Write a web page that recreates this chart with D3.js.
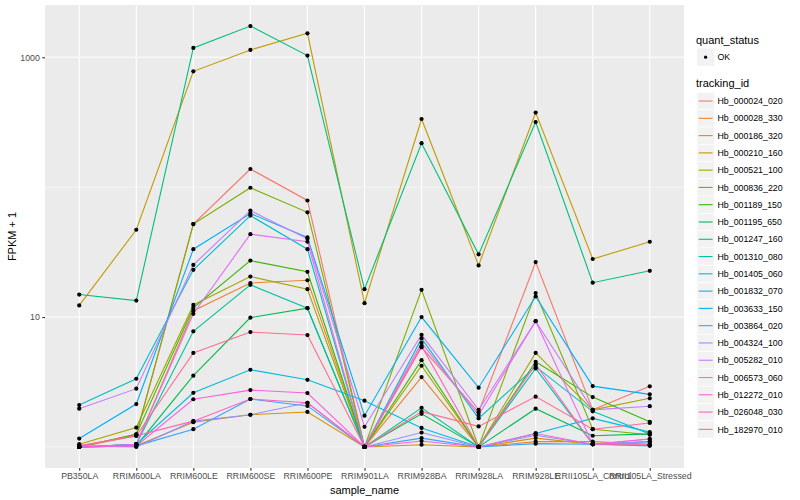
<!DOCTYPE html>
<html>
<head>
<meta charset="utf-8">
<script src="https://cdn.jsdelivr.net/npm/d3@7"></script>
<style>
  body { margin: 0; background: #fff; }
  text { font-family: "Liberation Sans", Arial, sans-serif; }
</style>
</head>
<body>
<div id="chart"></div>
<script>
// sample names along the x axis
const samples = ["PB350LA", "RRIM600LA", "RRIM600LE", "RRIM600SE", "RRIM600PE", "RRIM901LA",
  "RRIM928BA", "RRIM928LA", "RRIM928LE", "RRII105LA_Control", "RRII105LA_Stressed"];

const trackingIds = ["Hb_000024_020", "Hb_000028_330", "Hb_000186_320", "Hb_000210_160", "Hb_000521_100",
  "Hb_000836_220", "Hb_001189_150", "Hb_001195_650", "Hb_001247_160", "Hb_001310_080",
  "Hb_001405_060", "Hb_001832_070", "Hb_003633_150", "Hb_003864_020", "Hb_004324_100",
  "Hb_005282_010", "Hb_006573_060", "Hb_012272_010", "Hb_026048_030", "Hb_182970_010"];

// FPKM + 1, one array per gene, in sample order
const hb000024_020 = [1.0, 1.22, 52, 138, 79, 1.0, 5.85, 1.85, 26.5, 1.93, 2.93];
const hb000028_330 = [1.0, 1.05, 11.2, 18.3, 19.2, 1.0, 3.45, 1.0, 1.1, 1.1, 1.05];
const hb000186_320 = [1.0, 1.02, 1.55, 1.77, 1.86, 1.0, 1.04, 1.0, 1.17, 1.05, 1.03];
const hb000210_160 = [12.3, 47, 780, 1140, 1530, 12.8, 335, 25, 375, 28, 38];
const hb000521_100 = [1.05, 1.41, 12.4, 20.5, 16.4, 1.0, 4.22, 1.0, 5.3, 1.93, 2.37];
const hb000836_220 = [1.0, 1.25, 52, 99, 64, 1.0, 16.2, 1.0, 15.3, 1.37, 1.24];
const hb001189_150 = [1.0, 1.25, 11.8, 27.2, 22.3, 1.0, 4.66, 1.0, 4.53, 2.42, 1.56];
const hb001195_650 = [1.0, 1.02, 3.54, 9.9, 11.7, 1.0, 1.8, 1.0, 1.97, 1.22, 1.26];
const hb001247_160 = [14.9, 13.4, 1180, 1740, 1030, 16.4, 218, 30.4, 317, 18.4, 22.7];
const hb001310_080 = [1.0, 1.05, 7.76, 17.7, 11.7, 1.0, 2.0, 1.0, 4.02, 1.05, 1.1];
const hb001405_060 = [2.1, 3.35, 23.1, 60.4, 33.3, 1.0, 6.85, 1.66, 4.15, 1.88, 1.26];
const hb001832_070 = [1.0, 1.05, 2.61, 3.93, 3.29, 2.27, 1.4, 1.0, 1.27, 1.66, 1.3];
const hb003633_150 = [1.16, 2.14, 33.3, 62.7, 41, 1.74, 10.0, 2.86, 14.4, 2.94, 2.54];
const hb003864_020 = [1.0, 1.02, 1.37, 2.34, 2.07, 1.0, 1.17, 1.0, 1.06, 1.05, 1.02];
const hb004324_100 = [1.02, 1.0, 1.58, 1.77, 2.19, 1.0, 1.29, 1.0, 1.23, 1.05, 1.1];
const hb005282_010 = [1.97, 2.81, 25.2, 66, 40, 1.43, 7.3, 1.93, 9.3, 1.93, 2.06];
const hb006573_060 = [1.0, 1.05, 10.6, 43.5, 38, 1.0, 6.33, 1.76, 9.3, 1.05, 1.15];
const hb012272_010 = [1.0, 1.02, 2.33, 2.74, 2.6, 1.0, 1.11, 1.0, 1.27, 1.05, 1.15];
const hb026048_030 = [1.02, 1.22, 1.58, 2.34, 2.19, 1.0, 6.0, 1.0, 4.33, 1.05, 1.05];
const hb182970_010 = [1.02, 1.22, 5.3, 7.66, 7.27, 1.0, 1.87, 1.44, 2.44, 1.37, 1.53];

const seriesValues = [hb000024_020, hb000028_330, hb000186_320, hb000210_160, hb000521_100,
  hb000836_220, hb001189_150, hb001195_650, hb001247_160, hb001310_080,
  hb001405_060, hb001832_070, hb003633_150, hb003864_020, hb004324_100,
  hb005282_010, hb006573_060, hb012272_010, hb026048_030, hb182970_010];

// ggplot default hue palette for 20 levels
const palette = ["#F8766D", "#EA8331", "#D89000", "#C09B00", "#A3A500", "#7CAE00", "#39B600", "#00BB4E",
  "#00BF7D", "#00C1A3", "#00BFC4", "#00BAE0", "#00B0F6", "#35A2FF", "#9590FF", "#C77CFF",
  "#E76BF3", "#FA62DB", "#FF62BC", "#FF6C91"];

const yBreaks = [10, 1000];
const yMinor = [1, 100];

const series = trackingIds.map((id, i) => ({
  id,
  points: samples.map((s, j) => ({ sample: s, value: seriesValues[i][j] }))
}));

const W = 800, H = 500;
const panel = { left: 45, right: 684, top: 5, bottom: 468 };

const svg = d3.select("#chart").append("svg")
  .attr("width", W).attr("height", H);

svg.append("rect").attr("width", W).attr("height", H).attr("fill", "#fff");

const x = d3.scalePoint()
  .domain(samples)
  .range([panel.left, panel.right])
  .padding(0.6);

// log domain with 5% expansion like ggplot
const allVals = seriesValues.flat();
const lo = Math.log10(d3.min(allVals)), hi = Math.log10(d3.max(allVals));
const pad = (hi - lo) * 0.05;
const y = d3.scaleLog()
  .domain([Math.pow(10, lo - pad), Math.pow(10, hi + pad)])
  .range([panel.bottom, panel.top]);

const color = d3.scaleOrdinal().domain(trackingIds).range(palette);

svg.append("rect")
  .attr("x", panel.left).attr("y", panel.top)
  .attr("width", panel.right - panel.left).attr("height", panel.bottom - panel.top)
  .attr("fill", "#EBEBEB");

// grid
svg.append("g").selectAll("line").data(yMinor).join("line")
  .attr("x1", panel.left).attr("x2", panel.right)
  .attr("y1", d => y(d)).attr("y2", d => y(d))
  .attr("stroke", "#fff").attr("stroke-width", 0.55);
svg.append("g").selectAll("line").data(yBreaks).join("line")
  .attr("x1", panel.left).attr("x2", panel.right)
  .attr("y1", d => y(d)).attr("y2", d => y(d))
  .attr("stroke", "#fff").attr("stroke-width", 1.1);
svg.append("g").selectAll("line").data(samples).join("line")
  .attr("x1", d => x(d)).attr("x2", d => x(d))
  .attr("y1", panel.top).attr("y2", panel.bottom)
  .attr("stroke", "#fff").attr("stroke-width", 1.1);

// lines
const line = d3.line().x(d => x(d.sample)).y(d => y(d.value));
svg.append("g").selectAll("path").data(series).join("path")
  .attr("d", d => line(d.points))
  .attr("fill", "none")
  .attr("stroke", d => color(d.id))
  .attr("stroke-width", 1.1);

// points
svg.append("g").selectAll("circle").data(series.flatMap(s => s.points)).join("circle")
  .attr("cx", d => x(d.sample)).attr("cy", d => y(d.value))
  .attr("r", 2.1).attr("fill", "#000");

// axes
const xAxis = d3.axisBottom(x).tickSize(2.7).tickPadding(2.5);
const gx = svg.append("g").attr("transform", `translate(0,${panel.bottom})`).call(xAxis);
gx.select(".domain").remove();
gx.selectAll("line").attr("stroke", "#333").attr("stroke-width", 1.1);
gx.selectAll("text").attr("fill", "#4D4D4D").style("font-size", "8.8px");

const yAxis = d3.axisLeft(y).tickValues(yBreaks).tickFormat(d3.format("d")).tickSize(2.7).tickPadding(2.5);
const gy = svg.append("g").attr("transform", `translate(${panel.left},0)`).call(yAxis);
gy.select(".domain").remove();
gy.selectAll("line").attr("stroke", "#333").attr("stroke-width", 1.1);
gy.selectAll("text").attr("fill", "#4D4D4D").style("font-size", "8.8px");

svg.append("text")
  .attr("x", (panel.left + panel.right) / 2).attr("y", 494)
  .attr("text-anchor", "middle").style("font-size", "11px")
  .text("sample_name");

svg.append("text")
  .attr("transform", `translate(16,${(panel.top + panel.bottom) / 2}) rotate(-90)`)
  .attr("text-anchor", "middle").style("font-size", "11px")
  .text("FPKM + 1");

// legend
const lg = svg.append("g").attr("transform", "translate(697,0)");
lg.append("text").attr("x", -1).attr("y", 44).style("font-size", "11px").text("quant_status");
lg.append("rect").attr("x", 0).attr("y", 48.5).attr("width", 17.3).attr("height", 17.3).attr("fill", "#F2F2F2");
lg.append("circle").attr("cx", 8.6).attr("cy", 57.2).attr("r", 1.6).attr("fill", "#000");
lg.append("text").attr("x", 20.5).attr("y", 60.3).style("font-size", "8.8px").text("OK");

lg.append("text").attr("x", -1).attr("y", 87).style("font-size", "11px").text("tracking_id");
const key = lg.selectAll("g.key").data(trackingIds).join("g")
  .attr("class", "key")
  .attr("transform", (d, i) => `translate(0,${92.4 + i * 17.28})`);
key.append("rect").attr("width", 17.3).attr("height", 17.3).attr("fill", "#F2F2F2")
  .attr("stroke", "#fff").attr("stroke-width", 0.6);
key.append("line").attr("x1", 1.7).attr("x2", 15.6).attr("y1", 8.64).attr("y2", 8.64)
  .attr("stroke", d => color(d)).attr("stroke-width", 1.1);
key.append("text").attr("x", 20.5).attr("y", 11.8).style("font-size", "8.8px").text(d => d);
</script>
</body>
</html>
